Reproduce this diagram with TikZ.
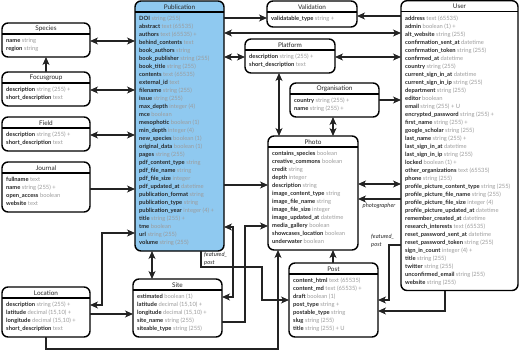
\documentclass[tikz,border=0pt]{standalone}
\usepackage{fontspec}
\setmainfont{Lato}
\usetikzlibrary{arrows.meta}
\definecolor{pubblue}{RGB}{143,201,240}
\definecolor{typegray}{RGB}{155,155,155}
\definecolor{linecol}{RGB}{35,35,35}
\newcommand\entity[7][]{%
  \node[ent,#1,minimum width={#5pt-#3pt},minimum height={#6pt-#4pt}] (#2) at (#3,#4) {};
  \draw[line width=1.1pt] ([yshift=-11pt]#2.north west) -- ([yshift=-11pt]#2.north east);
  \node[enttitle] (#2-title) at ([yshift=-6pt]#2.north) {#7};
}
\newcommand\attrs[2]{%
  \foreach \f/\t [count=\i from 0] in {#2} {
    \node[attr] (#1-row\i) at ([xshift=4pt,yshift=-18pt-\i*8pt]#1.north west) {\textbf{\f}\ \textcolor{typegray}{\t}};
  }
}
\begin{document}
\begin{tikzpicture}[x=1pt,y=-1pt,
  ent/.style={draw=black,line width=1.4pt,rounded corners=6pt,fill=white,anchor=north west,inner sep=0pt,outer sep=0pt},
  enttitle/.style={font=\fontsize{6.4}{7}\selectfont,inner sep=0pt,text=black!85},
  attr/.style={font=\fontsize{5.8}{6}\selectfont,anchor=west,inner sep=0pt,text height=4.2pt,text depth=1.3pt,text=black!85},
  conn/.style={draw=linecol,line width=1.1pt},
  lbl/.style={font=\itshape\fontsize{5.8}{8}\selectfont,inner sep=0pt,align=left,text=black!85},
  >={Stealth[length=8pt,width=7pt,inset=2.2pt]}]
\useasboundingbox (0,0) rectangle (520,351);

% ---------------- entities
\entity{species}{2}{23}{90}{57}{Species}
\attrs{species}{name/string, region/string}
\entity{focus}{2}{72}{90}{106}{Focusgroup}
\attrs{focus}{description/string (255) +, short\_description/text}
\entity{field}{2}{117}{90}{151}{Field}
\attrs{field}{description/string (255) +, short\_description/text}
\entity{journal}{2}{162}{90}{212}{Journal}
\attrs{journal}{fullname/text, name/string (255) +, open\_access/boolean, website/text}
\entity{loc}{2}{287}{90}{337}{Location}
\attrs{loc}{description/string (255) +, latitude/decimal (15{,}10) +, longitude/decimal (15{,}10) +, short\_description/text}

\entity[fill=pubblue]{pub}{135}{1}{224}{251}{Publication}
\attrs{pub}{DOI/string (255), abstract/text (65535), authors/text (65535) +, behind\_contents/text,
  book\_authors/string, book\_publisher/string (255), book\_title/string (255), contents/text (65535),
  external\_id/text, filename/string (255), issue/string (255), max\_depth/integer (4), mce/boolean,
  mesophotic/boolean (1), min\_depth/integer (4), new\_species/boolean (1), original\_data/boolean (1),
  pages/string (255), pdf\_content\_type/string, pdf\_file\_name/string, pdf\_file\_size/integer,
  pdf\_updated\_at/datetime, publication\_format/string, publication\_type/string,
  publication\_year/integer (4) +, title/string (255) +, tme/boolean, url/string (255), volume/string (255)}

\entity{valid}{267}{1}{357}{27}{Validation}
\attrs{valid}{validatable\_type/string +}
\entity{plat}{245}{39}{335}{73}{Platform}
\attrs{plat}{description/string (255) +, short\_description/text}
\entity{org}{290}{83}{379}{117}{Organisation}
\attrs{org}{country/string (255) +, name/string (255) +}
\entity{photo}{268}{136}{358}{250}{Photo}
\attrs{photo}{contains\_species/boolean, creative\_commons/boolean, credit/string, depth/integer,
  description/string, image\_content\_type/string, image\_file\_name/string, image\_file\_size/integer,
  image\_updated\_at/datetime, media\_gallery/boolean, showcases\_location/boolean, underwater/boolean}
\entity{site}{133}{279}{222}{337}{Site}
\attrs{site}{estimated/boolean (1), latitude/decimal (15{,}10) +, longitude/decimal (15{,}10) +,
  site\_name/string (255), siteable\_type/string (255)}
\entity{post}{289}{263}{378}{337}{Post}
\attrs{post}{content\_html/text (65535), content\_md/text (65535) +, draft/boolean (1), post\_type/string +,
  postable\_type/string, slug/string (255), title/string (255) + U}
\entity{user}{401}{0.7}{518}{290.5}{User}
\attrs{user}{address/text (65535), admin/boolean (1) +, alt\_website/string (255),
  confirmation\_sent\_at/datetime, confirmation\_token/string (255), confirmed\_at/datetime,
  country/string (255), current\_sign\_in\_at/datetime, current\_sign\_in\_ip/string (255),
  department/string (255), editor/boolean, email/string (255) + U, encrypted\_password/string (255) +,
  first\_name/string (255) +, google\_scholar/string (255), last\_name/string (255) +,
  last\_sign\_in\_at/datetime, last\_sign\_in\_ip/string (255), locked/boolean (1) +,
  other\_organizations/text (65535), phone/string (255), profile\_picture\_content\_type/string (255),
  profile\_picture\_file\_name/string (255), profile\_picture\_file\_size/integer (4),
  profile\_picture\_updated\_at/datetime, remember\_created\_at/datetime, research\_interests/text (65535),
  reset\_password\_sent\_at/datetime, reset\_password\_token/string (255), sign\_in\_count/integer (4) +,
  title/string (255), twitter/string (255), unconfirmed\_email/string (255), website/string (255)}

% ---------------- connectors
\draw[conn,<->] (species.east |- 0,41) -- (pub.west |- 0,41);
\draw[conn,->] (focus.north) -- (species.south);
\draw[conn,<->] (focus.east |- 0,90) -- (pub.west |- 0,90);
\draw[conn,<->] (field.east |- 0,135) -- (pub.west |- 0,135);
\draw[conn,->] (journal.east |- 0,189) -- (pub.west |- 0,189);
\draw[conn,<->] (loc.east |- 0,305) -| (102,233) -- (pub.west |- 0,233);
\draw[conn,->] (loc.east |- 0,314) -- (site.west |- 0,314);
\draw[conn,->] (loc.south) |- (278,349) -- (photo.south -| 278,0);
\draw[conn,<->] (pub.south -| 152,0) -- (site.north -| 152,0);
\draw[conn,<->] (pub.east |- 0,227) -| (233,297) -- (site.east |- 0,297);
\draw[conn,->] (site.east |- 0,322) -| (245,226) -- (photo.west |- 0,226);
\draw[conn,->] (pub.south -| 201,0) |- (262,267) |- (post.west |- 0,300);
\node[lbl,anchor=north west] (fplabel1) at (204,252) {featured\_\\post};
\draw[conn,->] (pub.east |- 0,185) -- (photo.west |- 0,185);
\draw[conn,->] (pub.east |- 0,18) -- (valid.west |- 0,18);
\draw[conn,->] (user.west |- 0,16) -- (valid.east |- 0,16);
\draw[conn,<->] (pub.east |- 0,33) -- (user.west |- 0,33);
\draw[conn,<->] (pub.east |- 0,57) -- (plat.west |- 0,57);
\draw[conn,<->] (plat.east |- 0,57) -- (user.west |- 0,57);
\draw[conn,<->] (plat.south -| 279,0) -- (photo.north -| 279,0);
\draw[conn,->] (org.east |- 0,100) -- (user.west |- 0,100);
\draw[conn,<->] (org.south -| 333,0) -- (photo.north -| 333,0);
\draw[conn,<->] (photo.east |- 0,184) -- (user.west |- 0,184);
\draw[conn,->] (user.west |- 0,199) -- (photo.east |- 0,199);
\node[lbl,anchor=north] (photolabel) at (379,203) {photographer};
\draw[conn,->] (post.north -| 333,0) -- (photo.south -| 333,0);
\draw[conn,->] (user.west |- 0,245) -| (389,300) -- (post.east |- 0,300);
\node[lbl,anchor=north west] (fplabel2) at (371,234) {featured\_\\post};
\draw[conn,->] (user.south -| 445,0) |- (post.east |- 0,311);
\end{tikzpicture}
\end{document}
